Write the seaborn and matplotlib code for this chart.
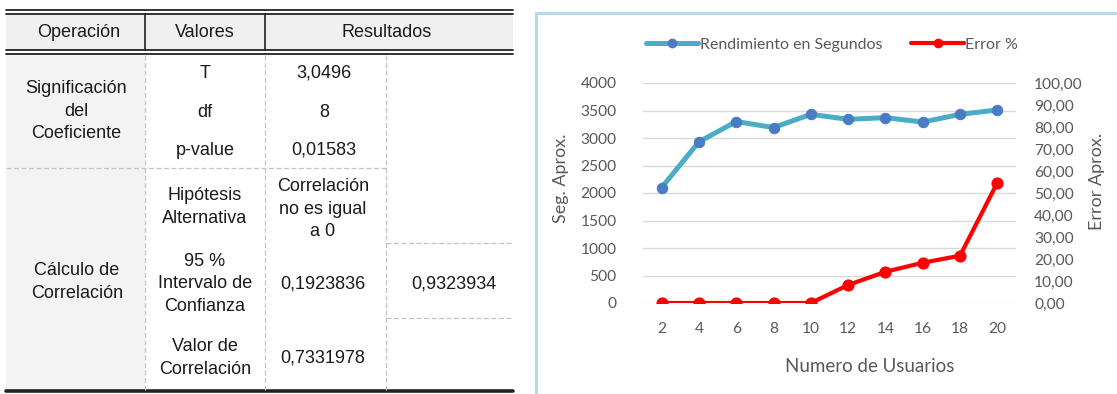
import matplotlib.pyplot as plt
import seaborn as sns
from matplotlib.lines import Line2D
from matplotlib.patches import Rectangle
from matplotlib.ticker import FuncFormatter

# chart data
usuarios = [2, 4, 6, 8, 10, 12, 14, 16, 18, 20]
segundos = [2100, 2930, 3300, 3190, 3430, 3340, 3370, 3290, 3430, 3510]
error_pct = [0, 0, 0, 0, 0, 8.2, 14.2, 18.3, 21.5, 54.7]

# table data
encabezados = ['Operación', 'Valores', 'Resultados']
grupos = ['Significación\ndel\nCoeficiente', 'Cálculo de\nCorrelación']
sig_etiquetas = ['T', 'df', 'p-value']
sig_valores = ['3,0496', '8', '0,01583']
calc_etiquetas = ['Hipótesis\nAlternativa', '95 %\nIntervalo de\nConfianza', 'Valor de\nCorrelación']
calc_valores = ['Correlación\nno es igual\na 0', '0,1923836', '0,7331978']
calc_extra = ['', '0,9323934', '']

sns.set_style('white')
plt.rcParams['font.family'] = ['Lato', 'DejaVu Sans']

fig = plt.figure(figsize=(11.17, 3.94), dpi=100)

# ---- table (pixel coordinates on a background axes) ----
bg = fig.add_axes([0, 0, 1, 1])
bg.set_xlim(0, 1117)
bg.set_ylim(394, 0)
bg.axis('off')

tf = dict(family='Liberation Sans', fontsize=13, color='#1a1a1a',
          ha='center', va='center', linespacing=1.45)
gris = '#f0f0f0'
dash = dict(color='#c4c4c4', lw=0.9, ls=(0, (4, 2)))

bg.add_patch(Rectangle((6, 14), 507, 36, color=gris, lw=0))
bg.add_patch(Rectangle((6, 54), 139, 337, color='#f3f3f3', lw=0))

for y in (10, 14, 50, 54):
    bg.plot([6, 513], [y, y], color='#222222', lw=1.3)
bg.plot([6, 513], [391, 391], color='#222222', lw=2.6)
for x in (145, 265):
    bg.plot([x, x], [14, 50], color='#222222', lw=1.2)
for x in (145, 265, 386):
    bg.plot([x, x], [55, 390], **dash)
bg.plot([6, 386], [168, 168], **dash)
bg.plot([386, 513], [243, 243], **dash)
bg.plot([386, 513], [318, 318], **dash)

for x, t in zip([79, 205, 387], encabezados):
    bg.text(x, 32, t, **tf)
bg.text(76, 111, grupos[0], **tf)
bg.text(77, 282, grupos[1], **tf)
for y, a, b in zip([73, 112, 150], sig_etiquetas, sig_valores):
    bg.text(205, y, a, **tf)
    bg.text(324, y, b, **tf)
for y, a, b, c in zip([207, 284, 358], calc_etiquetas, calc_valores, calc_extra):
    bg.text(205, y, a, **tf)
    bg.text(323, y + (2 if '\n' in b else 0), b, **tf)
    bg.text(454, y, c, **tf)

# chart border
bg.plot([536, 536], [13, 394], color='#b4dce8', lw=2.2)
bg.plot([536, 1117], [13, 13], color='#b4dce8', lw=2.2)

# ---- chart ----
ax = fig.add_axes([643 / 1117, 91 / 394, 373 / 1117, 220 / 394])
ax2 = ax.twinx()

sns.lineplot(x=usuarios, y=segundos, ax=ax, color='#4bacc6', lw=3.6,
             marker='o', markersize=7.5, markerfacecolor='#4a7cc4',
             markeredgecolor='#4a7cc4', zorder=3)
sns.lineplot(x=usuarios, y=error_pct, ax=ax2, color='#ff0000', lw=3.0,
             marker='o', markersize=8, markerfacecolor='#ff0000',
             markeredgecolor='#ff0000', zorder=3)

txt = '#595959'
ax.set_xlim(1, 21)
ax.set_xticks(usuarios)
ax.set_ylim(0, 4000)
ax.set_yticks(range(0, 4001, 500))
ax2.set_ylim(0, 100)
ax2.set_yticks(range(0, 101, 10))
ax2.yaxis.set_major_formatter(FuncFormatter(lambda v, p: f'{v:.2f}'.replace('.', ',')))
ax.yaxis.grid(True, color='#d9d9d9', lw=1)
ax.set_axisbelow(True)
for a in (ax, ax2):
    for s in a.spines.values():
        s.set_visible(False)
    a.tick_params(length=0, labelsize=11.2, colors=txt)
ax.tick_params(axis='y', pad=19)
ax.tick_params(axis='x', pad=14)
ax2.tick_params(axis='y', pad=13)

ax.set_xlabel('Numero de Usuarios', fontsize=13.5, color=txt)
ax.xaxis.set_label_coords((870 - 643) / 373, -(358 - 303) / 220)
ax.set_ylabel('Seg. Aprox.', fontsize=13, color=txt)
ax.yaxis.set_label_coords(-(643 - 569) / 373, (303 - 178) / 220)
ax2.set_ylabel('Error Aprox.', fontsize=13, color=txt)
ax2.yaxis.set_label_coords((1089 - 643) / 373, (303 - 181) / 220)

handles = [
    Line2D([], [], color='#4bacc6', lw=3.6, marker='o', markersize=6,
           markerfacecolor='#4a7cc4', markeredgecolor='#4a7cc4'),
    Line2D([], [], color='#ff0000', lw=3.0, marker='o', markersize=6,
           markerfacecolor='#ff0000', markeredgecolor='#ff0000'),
]
for a in (ax, ax2):
    if a.get_legend():
        a.get_legend().remove()
leg = fig.legend(handles, ['Rendimiento en Segundos', 'Error %'], ncol=2,
                 loc='center', bbox_to_anchor=(832 / 1117, 1 - 45 / 394),
                 frameon=False, fontsize=11.5, handlelength=3.3,
                 handletextpad=0.1, columnspacing=1.8)
for t in leg.get_texts():
    t.set_color(txt)

fig.savefig('out.png', dpi=100)
